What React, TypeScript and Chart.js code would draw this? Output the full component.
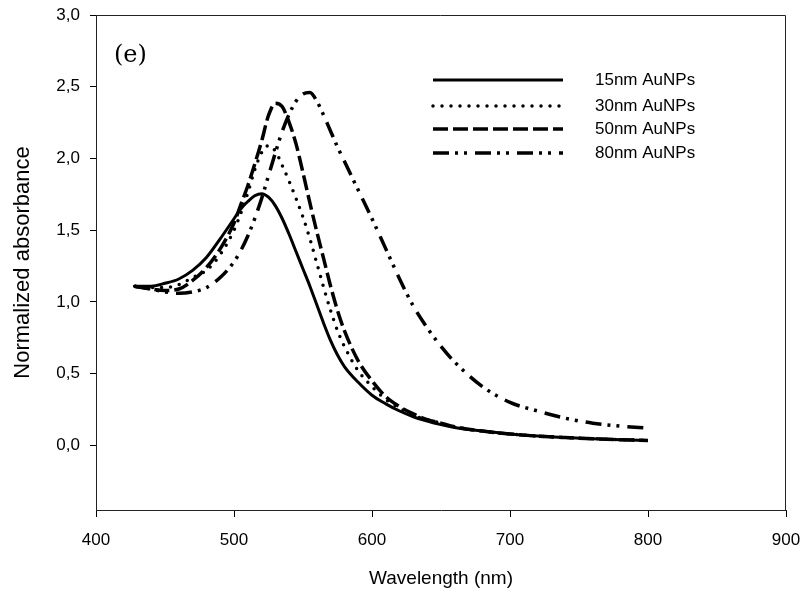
import React, { useEffect, useRef } from "react";
import { Chart, registerables } from "chart.js";

Chart.register(...registerables);

const wavelengths = [428, 440, 450, 460, 470, 480, 490, 500, 505, 510, 515, 520, 525, 530, 535, 540, 545, 550, 555, 560, 565, 570, 575, 580, 590, 600, 610, 620, 630, 640, 650, 660, 680, 700, 720, 740, 760, 780, 800];

const nm15 = [1.11, 1.11, 1.13, 1.16, 1.22, 1.31, 1.44, 1.58, 1.65, 1.70, 1.74, 1.755, 1.73, 1.67, 1.58, 1.47, 1.35, 1.23, 1.11, 0.98, 0.85, 0.73, 0.63, 0.55, 0.44, 0.35, 0.29, 0.24, 0.20, 0.17, 0.145, 0.125, 0.10, 0.08, 0.065, 0.055, 0.047, 0.04, 0.035];
const nm30 = [1.11, 1.10, 1.10, 1.12, 1.17, 1.22, 1.33, 1.50, 1.62, 1.76, 1.92, 2.04, 2.09, 2.05, 1.95, 1.84, 1.72, 1.59, 1.44, 1.27, 1.10, 0.94, 0.80, 0.69, 0.52, 0.41, 0.32, 0.26, 0.21, 0.18, 0.155, 0.13, 0.10, 0.08, 0.065, 0.055, 0.047, 0.04, 0.035];
const nm50 = [1.11, 1.09, 1.08, 1.09, 1.15, 1.24, 1.37, 1.55, 1.68, 1.81, 1.96, 2.12, 2.30, 2.385, 2.36, 2.25, 2.10, 1.90, 1.69, 1.49, 1.30, 1.11, 0.94, 0.80, 0.59, 0.45, 0.34, 0.27, 0.22, 0.18, 0.155, 0.13, 0.10, 0.08, 0.065, 0.055, 0.047, 0.04, 0.035];
const nm80 = [1.11, 1.09, 1.07, 1.06, 1.07, 1.10, 1.17, 1.28, 1.36, 1.46, 1.58, 1.72, 1.88, 2.04, 2.19, 2.31, 2.40, 2.45, 2.46, 2.40, 2.30, 2.19, 2.08, 1.98, 1.78, 1.58, 1.37, 1.16, 0.97, 0.82, 0.69, 0.58, 0.41, 0.30, 0.24, 0.19, 0.155, 0.135, 0.12];

const seriesLabels = ["15nm AuNPs", "30nm AuNPs", "50nm AuNPs", "80nm AuNPs"];
const xTicks = [400, 500, 600, 700, 800, 900];
const yTicks = [0, 0.5, 1.0, 1.5, 2.0, 2.5, 3.0];
const panelLabel = "(e)";
const xTitle = "Wavelength (nm)";
const yTitle = "Normalized absorbance";

const styles = [
  { dash: [] as number[], cap: "butt" as CanvasLineCap, width: 3 },
  { dash: [0, 9], cap: "round" as CanvasLineCap, width: 3.5 },
  { dash: [15, 5], cap: "butt" as CanvasLineCap, width: 3.5 },
  { dash: [16, 6, 3, 6, 3, 8], cap: "butt" as CanvasLineCap, width: 3.5 },
];

const overlay = {
  id: "overlay",
  afterDraw(chart: any) {
    const { ctx, chartArea } = chart;
    ctx.save();
    ctx.strokeStyle = "#222";
    ctx.lineWidth = 1;
    ctx.setLineDash([]);
    ctx.beginPath();
    ctx.moveTo(chartArea.left, chartArea.top + 0.5);
    ctx.lineTo(chartArea.right - 0.5, chartArea.top + 0.5);
    ctx.lineTo(chartArea.right - 0.5, chartArea.bottom);
    ctx.stroke();
    ctx.fillStyle = "#000";
    ctx.font = '24px "DejaVu Serif"';
    ctx.textAlign = "left";
    ctx.textBaseline = "middle";
    ctx.fillText(panelLabel, 114, 56);
    const ys = [80, 106, 129, 153];
    chart.data.datasets.forEach((ds: any, i: number) => {
      ctx.strokeStyle = "#000";
      ctx.lineWidth = ds.borderWidth;
      ctx.lineCap = ds.borderCapStyle;
      ctx.setLineDash(ds.borderDash);
      ctx.beginPath();
      ctx.moveTo(433, ys[i]);
      ctx.lineTo(563, ys[i]);
      ctx.stroke();
      ctx.setLineDash([]);
      ctx.font = '17px "Liberation Sans"';
      ctx.fillStyle = "#000";
      ctx.textAlign = "left";
      ctx.textBaseline = "middle";
      ctx.fillText(ds.label, 595, ys[i]);
    });
    ctx.restore();
  },
};

export default function App() {
  const ref = useRef<HTMLCanvasElement | null>(null);
  useEffect(() => {
    if (!ref.current) return;
    const series = [nm15, nm30, nm50, nm80];
    const chart = new Chart(ref.current, {
      type: "line",
      data: {
        datasets: series.map((vals, i) => ({
          label: seriesLabels[i],
          data: wavelengths.map((w, j) => ({ x: w, y: vals[j] })),
          borderColor: "#000",
          borderWidth: styles[i].width,
          borderDash: styles[i].dash,
          borderCapStyle: styles[i].cap,
          pointRadius: 0,
          fill: false,
          cubicInterpolationMode: "monotone",
        })),
      },
      options: {
        animation: false,
        responsive: false,
        layout: { padding: { top: 15, right: 17, left: 0, bottom: 0 } },
        plugins: { legend: { display: false }, tooltip: { enabled: false } },
        scales: {
          x: {
            type: "linear",
            min: 400,
            max: 900,
            afterBuildTicks: (s: any) => {
              s.ticks = xTicks.map((v) => ({ value: v }));
            },
            afterFit: (s: any) => {
              s.height = 86;
              s.paddingLeft = 0;
              s.paddingRight = 0;
            },
            ticks: {
              color: "#000",
              font: { family: "Liberation Sans", size: 17 },
              padding: 13,
              maxRotation: 0,
            },
            grid: { display: true, drawOnChartArea: false, drawTicks: true, tickLength: 7, color: "#000" },
            border: { display: true, color: "#222", width: 1 },
            title: {
              display: true,
              text: xTitle,
              color: "#000",
              font: { family: "Liberation Sans", size: 19 },
              padding: { top: 0, bottom: 6 },
            },
          },
          y: {
            type: "linear",
            min: -0.45,
            max: 3.0,
            afterBuildTicks: (s: any) => {
              s.ticks = yTicks.map((v) => ({ value: v }));
            },
            afterFit: (s: any) => {
              s.width = 96;
              s.paddingTop = 0;
              s.paddingBottom = 0;
            },
            ticks: {
              color: "#000",
              font: { family: "Liberation Sans", size: 17 },
              padding: 10,
              callback: (v: any) => Number(v).toFixed(1).replace(".", ","),
            },
            grid: { display: true, drawOnChartArea: false, drawTicks: true, tickLength: 6, color: "#000" },
            border: { display: true, color: "#222", width: 1 },
            title: {
              display: true,
              text: yTitle,
              color: "#000",
              font: { family: "Liberation Sans", size: 22 },
              padding: { top: 10, bottom: 0 },
            },
          },
        },
      },
      plugins: [overlay],
    } as any);
    return () => chart.destroy();
  }, []);
  return (
    <div style={{ position: "absolute", left: 0, top: 0, width: 803, height: 596, background: "#fff" }}>
      <canvas ref={ref} width={803} height={596} />
    </div>
  );
}
